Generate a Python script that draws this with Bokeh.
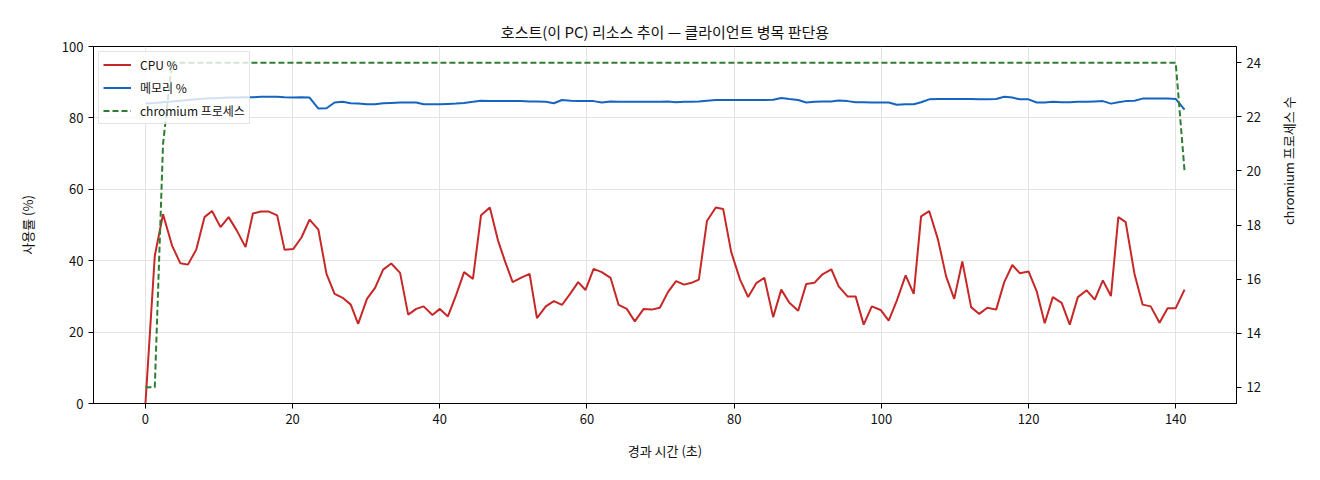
import math

from bokeh.plotting import figure
from bokeh.models import Range1d, LinearAxis, FixedTicker, Legend, LegendItem
from bokeh.embed import file_html
from bokeh.resources import INLINE

FONT = "Noto Sans CJK KR"

# elapsed seconds of each sample
elapsed = [0.0, 1.27, 2.39, 3.6, 4.73, 5.77, 6.9, 8.02, 9.05, 10.2, 11.3, 12.4,
           13.6, 14.6, 15.7, 16.7, 17.9, 18.9, 20.1, 21.2, 22.3, 23.5, 24.6, 25.7,
           26.8, 27.9, 28.9, 30.1, 31.2, 32.3, 33.4, 34.6, 35.7, 36.8, 37.8, 39.0,
           40.0, 41.1, 42.2, 43.3, 44.5, 45.6, 46.8, 47.9, 48.9, 49.9, 51.0, 52.2,
           53.2, 54.4, 55.5, 56.6, 57.8, 58.8, 59.8, 60.9, 62.0, 63.2, 64.3, 65.4,
           66.5, 67.7, 68.8, 69.9, 71.0, 72.1, 73.2, 74.2, 75.2, 76.3, 77.5, 78.5,
           79.6, 80.8, 81.9, 83.0, 84.1, 85.3, 86.4, 87.5, 88.7, 89.8, 90.9, 92.0,
           93.2, 94.2, 95.4, 96.5, 97.6, 98.7, 99.9, 101.0, 102.1, 103.3, 104.4, 105.4,
           106.5, 107.7, 108.8, 109.9, 111.0, 112.2, 113.3, 114.4, 115.6, 116.7, 117.8, 118.8,
           120.0, 121.1, 122.2, 123.3, 124.5, 125.6, 126.7, 127.9, 129.0, 130.1, 131.2, 132.2,
           133.2, 134.4, 135.5, 136.6, 137.8, 138.9, 140.0, 141.2]

cpu = [0.0, 41.4, 53.0, 44.3, 39.3, 38.9, 43.1, 52.2, 53.9, 49.4, 52.2, 48.5,
       43.8, 53.2, 53.8, 53.8, 52.7, 43.1, 43.3, 46.5, 51.5, 48.7, 36.3, 30.7,
       29.6, 27.7, 22.3, 29.3, 32.4, 37.5, 39.2, 36.6, 24.9, 26.5, 27.2, 24.8,
       26.5, 24.4, 30.3, 36.8, 34.9, 52.7, 54.9, 45.7, 39.6, 34.0, 35.2, 36.3,
       23.9, 27.2, 28.7, 27.6, 31.0, 34.0, 31.8, 37.7, 36.8, 35.2, 27.6, 26.5,
       23.0, 26.5, 26.3, 26.8, 31.2, 34.3, 33.3, 33.8, 34.7, 51.1, 54.9, 54.5,
       42.4, 34.7, 29.8, 33.7, 35.2, 24.2, 31.9, 28.2, 26.0, 33.5, 33.8, 36.2,
       37.6, 32.8, 30.0, 30.0, 22.1, 27.2, 26.2, 23.2, 28.8, 35.9, 30.7, 52.4,
       53.9, 45.9, 35.6, 29.3, 39.8, 27.0, 25.1, 26.8, 26.3, 34.0, 38.8, 36.5,
       37.0, 31.5, 22.5, 29.8, 28.2, 22.1, 29.8, 31.7, 29.1, 34.5, 30.1, 52.2,
       50.8, 36.3, 27.7, 27.2, 22.6, 26.7, 26.7, 31.9]

memory = [84.0, 84.2, 84.4, 84.6, 84.8, 85.0, 85.2, 85.4, 85.5, 85.6, 85.7, 85.7,
          85.8, 85.8, 85.9, 85.9, 85.9, 85.8, 85.7, 85.8, 85.7, 82.6, 82.7, 84.3,
          84.5, 84.1, 84.0, 83.8, 83.8, 84.1, 84.2, 84.3, 84.3, 84.3, 83.8, 83.8,
          83.8, 83.9, 84.0, 84.2, 84.5, 84.8, 84.7, 84.7, 84.7, 84.7, 84.7, 84.6,
          84.6, 84.5, 84.1, 85.0, 84.8, 84.7, 84.7, 84.7, 84.3, 84.6, 84.5, 84.5,
          84.5, 84.5, 84.5, 84.5, 84.6, 84.4, 84.5, 84.5, 84.6, 84.8, 85.0, 85.0,
          85.0, 85.0, 85.0, 85.0, 85.0, 85.1, 85.6, 85.3, 85.0, 84.3, 84.5, 84.6,
          84.6, 84.9, 84.7, 84.4, 84.4, 84.3, 84.3, 84.3, 83.7, 83.8, 83.8, 84.4,
          85.2, 85.3, 85.3, 85.3, 85.3, 85.3, 85.2, 85.2, 85.3, 85.9, 85.7, 85.2,
          85.2, 84.3, 84.3, 84.5, 84.4, 84.4, 84.5, 84.5, 84.6, 84.7, 84.0, 84.4,
          84.7, 84.8, 85.4, 85.4, 85.4, 85.4, 85.3, 82.3]

chromium = [12, 12, 21] + [24] * 124 + [20]

x_ticks = [0, 20, 40, 60, 80, 100, 120, 140]
pct_ticks = [0, 20, 40, 60, 80, 100]
proc_ticks = [12, 14, 16, 18, 20, 22, 24]

p = figure(width=1310, height=470,
           x_range=Range1d(-7.06, 148.26),
           y_range=Range1d(0, 100),
           output_backend="svg",
           toolbar_location=None,
           min_border_left=93, min_border_right=72,
           min_border_top=46, min_border_bottom=67)

p.extra_y_ranges = {"proc": Range1d(11.4, 24.6)}

#title
p.title.text = "호스트(이 PC) 리소스 추이 — 클라이언트 병목 판단용"
p.title.align = "center"
p.title.text_font = FONT
p.title.text_font_size = "15px"
p.title.text_font_style = "normal"
p.title.text_color = "#111111"

p.outline_line_color = "black"
p.outline_line_width = 1
p.background_fill_color = "white"

p.xgrid.grid_line_color = "#e3e3e3"
p.ygrid.grid_line_color = "#e3e3e3"

#lines
r_cpu = p.line(elapsed, cpu, line_color="#c62828", line_width=2)
r_mem = p.line(elapsed, memory, line_color="#1565c0", line_width=2)
r_proc = p.line(elapsed, chromium, line_color="#2e7d32", line_width=2,
                line_dash="6 3", y_range_name="proc")

#right axis
right = LinearAxis(y_range_name="proc", axis_label="chromium 프로세스 수")
p.add_layout(right, "right")

p.xaxis.ticker = FixedTicker(ticks=x_ticks)
p.yaxis[0].ticker = FixedTicker(ticks=pct_ticks)
right.ticker = FixedTicker(ticks=proc_ticks)

p.xaxis.axis_label = "경과 시간 (초)"
p.yaxis[0].axis_label = "사용률 (%)"

for ax in [p.xaxis[0], p.yaxis[0], right]:
    ax.axis_line_color = "black"
    ax.major_tick_line_color = "black"
    ax.major_tick_out = 5
    ax.major_tick_in = 0
    ax.minor_tick_line_color = None
    ax.major_label_text_font = FONT
    ax.major_label_text_font_size = "13px"
    ax.major_label_text_color = "#111111"
    ax.axis_label_text_font = FONT
    ax.axis_label_text_font_size = "13px"
    ax.axis_label_text_font_style = "normal"
    ax.axis_label_text_color = "#111111"

p.xaxis.axis_label_standoff = 14
p.yaxis[0].axis_label_standoff = 22
right.axis_label_standoff = 25
right.axis_label_orientation = math.pi / 2

#legend
legend = Legend(items=[LegendItem(label="CPU %", renderers=[r_cpu]),
                       LegendItem(label="메모리 %", renderers=[r_mem]),
                       LegendItem(label="chromium 프로세스", renderers=[r_proc])],
                location="top_left")
legend.label_text_font = FONT
legend.label_text_font_size = "12px"
legend.label_text_color = "#111111"
legend.glyph_width = 28
legend.glyph_height = 17
legend.label_height = 17
legend.label_standoff = 9
legend.spacing = 6
legend.padding = 4
legend.margin = 5
legend.border_line_color = "#cccccc"
legend.background_fill_alpha = 0.8
p.add_layout(legend)

open("out.html", "w").write(file_html(p, INLINE))
